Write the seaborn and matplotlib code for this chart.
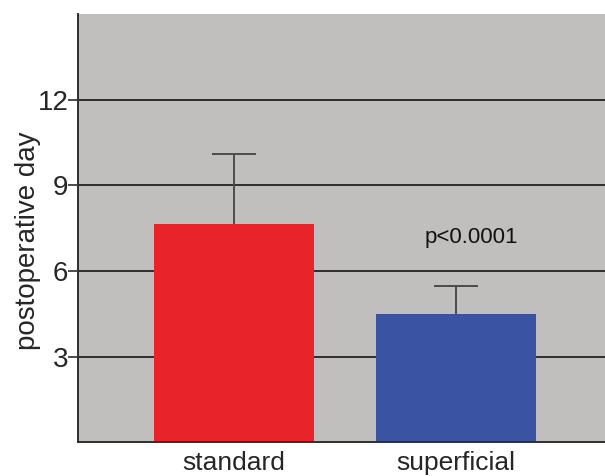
import numpy as np
import pandas as pd
import seaborn as sns
import matplotlib.pyplot as plt

# values
groups = ['standard', 'superficial']
means = [7.66, 4.51]
upper = [10.11, 5.49]
bar_colors = ['#e8232a', '#3a53a3']
yticks = [3, 6, 9, 12]

df = pd.DataFrame({'group': groups, 'day': means})
err = np.array(upper) - np.array(means)

sns.set_style('white')
plt.rcParams['font.family'] = ['Liberation Sans', 'DejaVu Sans']

fig = plt.figure(figsize=(6.05, 4.76), dpi=100)
ax = fig.add_axes([0.129, 0.0704, 0.871, 0.9002])
ax.set_facecolor('#c0bfbe')

sns.barplot(data=df, x='group', y='day', hue='group', palette=bar_colors,
            width=0.72, legend=False, saturation=1, linewidth=0,
            ax=ax, zorder=3)

eb = ax.errorbar(range(len(groups)), means, yerr=[np.zeros(len(err)), err],
                 fmt='none', ecolor='#4a4a4a', elinewidth=1.4, capsize=15.5,
                 capthick=1.4, zorder=2)
# only the upper whisker is drawn in the original
eb.lines[1][0].set_visible(False)

for y in yticks:
    ax.axhline(y, color='#2e2e2e', lw=1.4, zorder=1)

ax.text(1.07, 7.18, 'p<0.0001', ha='center', va='center', fontsize=16, color='#111111')

ax.set_ylim(0, 15)
ax.set_xlim(-0.70, 1.67)
ax.set_yticks(yticks)
ax.set_yticklabels([str(t) for t in yticks], fontsize=20)
ax.set_xticks(range(len(groups)))
ax.set_xticklabels(groups, fontsize=19)
ax.set_xlabel('')
ax.set_ylabel('postoperative day', fontsize=20)
ax.yaxis.set_label_coords(-0.071, 0.47)

ax.tick_params(axis='y', length=7, width=1.2, color='#2e2e2e', pad=0, left=True)
ax.tick_params(axis='x', length=0, pad=6)
for side in ['top', 'right']:
    ax.spines[side].set_visible(False)
for side in ['left', 'bottom']:
    ax.spines[side].set_color('#2e2e2e')
    ax.spines[side].set_linewidth(1.4)
    ax.spines[side].set_zorder(4)

fig.savefig('out.png', dpi=100)
